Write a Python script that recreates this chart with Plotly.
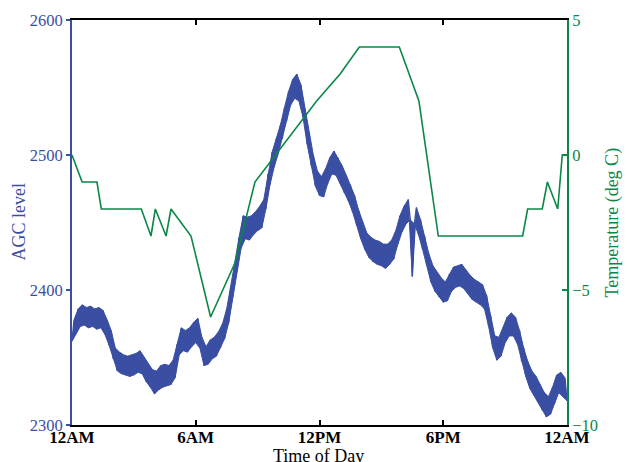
import numpy as np
import plotly.graph_objects as go

# AGC level samples, one every 0.1 h from 12AM to 12AM (noisy trace:
# even samples sit on the lower edge of the noise band, odd samples on the upper edge)
agc_values = [
    2362, 2378, 2368, 2386, 2373, 2389, 2374, 2387, 2372, 2388,
    2373, 2386, 2371, 2387, 2372, 2385, 2367, 2378, 2359, 2370,
    2349, 2357, 2340, 2354, 2338, 2352, 2337, 2351, 2336, 2352,
    2337, 2353, 2339, 2355, 2338, 2350, 2332, 2345, 2328, 2341,
    2323, 2340, 2326, 2344, 2328, 2345, 2329, 2344, 2330, 2348,
    2335, 2360, 2352, 2372, 2355, 2370, 2354, 2372, 2358, 2376,
    2361, 2379, 2357, 2365, 2344, 2358, 2345, 2363, 2349, 2365,
    2351, 2369, 2357, 2375, 2364, 2386, 2376, 2402, 2395, 2421,
    2414, 2439, 2431, 2455, 2438, 2454, 2437, 2455, 2441, 2458,
    2444, 2462, 2446, 2467, 2460, 2486, 2478, 2502, 2491, 2512,
    2501, 2522, 2512, 2535, 2525, 2547, 2537, 2556, 2542, 2560,
    2540, 2552, 2528, 2534, 2508, 2516, 2492, 2500, 2477, 2488,
    2470, 2484, 2469, 2490, 2479, 2498, 2486, 2503, 2485, 2498,
    2479, 2492, 2472, 2485, 2466, 2478, 2458, 2470, 2448, 2459,
    2438, 2450, 2430, 2442, 2424, 2439, 2421, 2437, 2419, 2436,
    2418, 2434, 2416, 2434, 2419, 2437, 2423, 2444, 2434, 2455,
    2443, 2462, 2449, 2467, 2452, 2410, 2449, 2461, 2441, 2452,
    2430, 2440, 2418, 2427, 2406, 2418, 2399, 2413, 2395, 2409,
    2391, 2406, 2392, 2412, 2399, 2417, 2402, 2418, 2403, 2419,
    2401, 2415, 2397, 2411, 2393, 2408, 2391, 2406, 2389, 2404,
    2386, 2396, 2373, 2381, 2357, 2366, 2348, 2365, 2351, 2372,
    2361, 2380, 2366, 2383, 2366, 2380, 2360, 2370, 2347, 2357,
    2336, 2347, 2327, 2340, 2322, 2336, 2317, 2330, 2311, 2324,
    2306, 2321, 2308, 2328, 2316, 2337, 2324, 2339, 2321, 2335,
    2318,
]
agc_step_hours = 0.1
agc_hours = np.arange(len(agc_values)) * agc_step_hours
agc_arr = np.array(agc_values)

# Temperature (deg C) vertices
temp_hours = [0.0, 0.49, 1.21, 1.42, 3.36, 3.83, 4.04, 4.56, 4.80, 5.77,
              6.72, 7.90, 8.87, 11.86, 13.0, 13.93, 15.87, 16.82, 17.76,
              21.85, 22.09, 22.80, 23.05, 23.55, 23.77, 24.0]
temp_values = [0, -1, -1, -2, -2, -3, -2, -3, -2, -3,
               -6, -4, -1, 2, 3, 4, 4, 2, -3,
               -3, -2, -2, -1, -2, 0, 0]

x_tick_vals = [0, 6, 12, 18, 24]
x_tick_text = ["12AM", "6AM", "12PM", "6PM", "12AM"]
agc_ticks = [2300, 2400, 2500, 2600]
temp_ticks = [-10, -5, 0, 5]

BLUE = "#3a4fa3"
GREEN = "#0b8747"
FONT = "Liberation Serif"

fig = go.Figure()
# noise band: lower edge (even samples) then upper edge (odd samples) filled between
fig.add_trace(go.Scatter(x=agc_hours[0::2], y=agc_arr[0::2], mode="lines",
                         line=dict(color=BLUE, width=1), yaxis="y",
                         showlegend=False, hoverinfo="skip"))
fig.add_trace(go.Scatter(x=agc_hours[1::2], y=agc_arr[1::2], mode="lines",
                         line=dict(color=BLUE, width=1), fill="tonexty",
                         fillcolor=BLUE, yaxis="y",
                         showlegend=False, hoverinfo="skip"))
fig.add_trace(go.Scatter(x=agc_hours, y=agc_values, mode="lines",
                         line=dict(color=BLUE, width=1.4), yaxis="y",
                         showlegend=False, hoverinfo="skip"))
fig.add_trace(go.Scatter(x=temp_hours, y=temp_values, mode="lines",
                         line=dict(color=GREEN, width=1.6), yaxis="y2",
                         showlegend=False, hoverinfo="skip"))

fig.update_layout(
    width=627, height=462,
    margin=dict(l=72, r=60, t=20, b=37),
    paper_bgcolor="white", plot_bgcolor="white",
    font=dict(family=FONT, size=16, color="black"),
    xaxis=dict(range=[0, 24], tickvals=x_tick_vals, ticktext=x_tick_text,
               automargin=False,
               showgrid=False, zeroline=False, showline=True, linecolor="black",
               linewidth=2, mirror="ticks", ticks="inside", ticklen=5,
               tickwidth=1.5, tickcolor="black", ticklabelstandoff=-4,
               tickfont=dict(family=FONT, size=17, color="black", weight="bold")),
    yaxis=dict(range=[2300, 2600], tickvals=agc_ticks, showgrid=False, zeroline=False,
               automargin=False,
               showline=True, linecolor=BLUE, linewidth=2, ticks="outside", ticklen=4,
               tickwidth=1.5, tickcolor=BLUE,
               tickfont=dict(family=FONT, size=16.5, color=BLUE)),
    yaxis2=dict(range=[-10, 5], tickvals=temp_ticks, overlaying="y", side="right",
                automargin=False,
                showgrid=False, zeroline=False, showline=True, linecolor=GREEN,
                linewidth=2, ticks="inside", ticklen=5, tickwidth=1.5, tickcolor=GREEN,
                tickfont=dict(family=FONT, size=16.5, color=GREEN)),
    annotations=[
        dict(text="Time of Day", xref="paper", yref="paper", x=0.497, y=-0.047,
             xanchor="center", yanchor="top", showarrow=False,
             font=dict(family=FONT, size=18, color="black")),
        dict(text="AGC level", xref="paper", yref="paper", x=-0.109, y=0.5,
             xanchor="center", yanchor="middle", textangle=-90, showarrow=False,
             font=dict(family=FONT, size=18, color=BLUE)),
        dict(text="Temperature (deg C)", xref="paper", yref="paper", x=1.091, y=0.5,
             xanchor="center", yanchor="middle", textangle=-90, showarrow=False,
             font=dict(family=FONT, size=18, color=GREEN)),
    ],
)

fig.write_html("out.html")
